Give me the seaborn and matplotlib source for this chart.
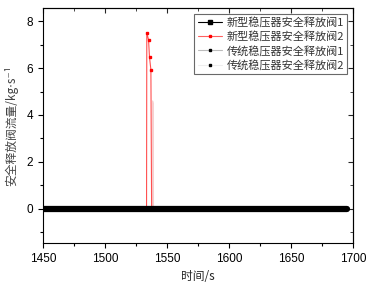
import numpy as np
import pandas as pd
import matplotlib
matplotlib.use("Agg")
import matplotlib.pyplot as plt
from matplotlib.lines import Line2D
from matplotlib.ticker import MultipleLocator
import seaborn as sns

# series
new1_t = [1450, 1695]
new1_v = [0, 0]
new2_t = [1450, 1533.6, 1533.8, 1535.2, 1536.0, 1537.1, 1537.7, 1695]
new2_v = [0, 0, 7.5, 7.2, 6.45, 5.93, 0, 0]
old1_t = [1450, 1538.3, 1538.5, 1539.0, 1539.2, 1695]
old1_v = [0, 0, 4.6, 4.5, 0, 0]
old2_t = [1450, 1695]
old2_v = [0, 0]
labels = ["新型稳压器安全释放阀1", "新型稳压器安全释放阀2",
          "传统稳压器安全释放阀1", "传统稳压器安全释放阀2"]

sns.set_style("ticks")
plt.rcParams['font.family'] = ['Liberation Sans', 'Noto Sans CJK SC', 'DejaVu Sans']

fig = plt.figure(figsize=(3.73, 2.89), dpi=100)
ax = fig.add_axes([0.115, 0.159, 0.831, 0.813])

sns.lineplot(x=old2_t, y=old2_v, ax=ax, color="#eeeeee", lw=0.8)
sns.lineplot(x=old1_t, y=old1_v, ax=ax, color="#f6d0d0", lw=0.8)
sns.lineplot(x=new2_t, y=new2_v, ax=ax, color="#ff5050", lw=0.8)
ax.plot(new2_t[2:6], new2_v[2:6], 's', color="red", ms=2)
sns.lineplot(x=new1_t, y=new1_v, ax=ax, color="black", lw=4.5)

ax.set_xlim(1450, 1700)
ax.set_ylim(-1.45, 8.55)
ax.xaxis.set_major_locator(MultipleLocator(50))
ax.xaxis.set_minor_locator(MultipleLocator(25))
ax.yaxis.set_major_locator(MultipleLocator(2))
ax.yaxis.set_minor_locator(MultipleLocator(1))
ax.tick_params(which='both', direction='out', labelsize=8.5, width=0.8, colors='black')
ax.tick_params(which='major', length=3.5)
ax.tick_params(which='minor', length=2)
for s in ax.spines.values():
    s.set_linewidth(0.8)
    s.set_color('black')

# mirrored ticks on top / right
ax2 = ax.secondary_xaxis('top')
ax2.xaxis.set_major_locator(MultipleLocator(50))
ax2.xaxis.set_minor_locator(MultipleLocator(25))
ax2.tick_params(which='both', direction='in', labeltop=False)
ax2.tick_params(which='major', length=3.5)
ax2.tick_params(which='minor', length=2)
ax3 = ax.secondary_yaxis('right')
ax3.yaxis.set_major_locator(MultipleLocator(2))
ax3.yaxis.set_minor_locator(MultipleLocator(1))
ax3.tick_params(which='both', direction='in', labelright=False)
ax3.tick_params(which='major', length=3.5)
ax3.tick_params(which='minor', length=2)

ax.set_xlabel("时间/s", fontsize=8.5, family=['Noto Sans CJK SC'])
ax.set_ylabel("安全释放阀流量/kg⋅s⁻¹", fontsize=8.5, color='#444444',
              family=['Noto Sans CJK SC', 'DejaVu Sans'], labelpad=6)

handles = [
    Line2D([], [], color='black', lw=0.8, marker='s', ms=3.5),
    Line2D([], [], color='#ff6060', lw=0.8, marker='s', ms=2, mfc='red', mec='red'),
    Line2D([], [], color='#bbbbbb', lw=0.8, marker='s', ms=1.5, mfc='black', mec='black'),
    Line2D([], [], color='#eeeeee', lw=0.8, marker='s', ms=1.5, mfc='black', mec='black'),
]
leg = ax.legend(handles, labels, loc='upper right', frameon=True,
                fancybox=False, edgecolor='#444444', borderpad=0.3,
                handlelength=2.2, handletextpad=0.4, labelspacing=0.3,
                borderaxespad=0.5, prop={'family': ['Noto Sans CJK SC'], 'size': 8})
leg.get_frame().set_linewidth(0.8)
for t in leg.get_texts():
    t.set_color('#333333')

fig.savefig("out.png", dpi=100)
